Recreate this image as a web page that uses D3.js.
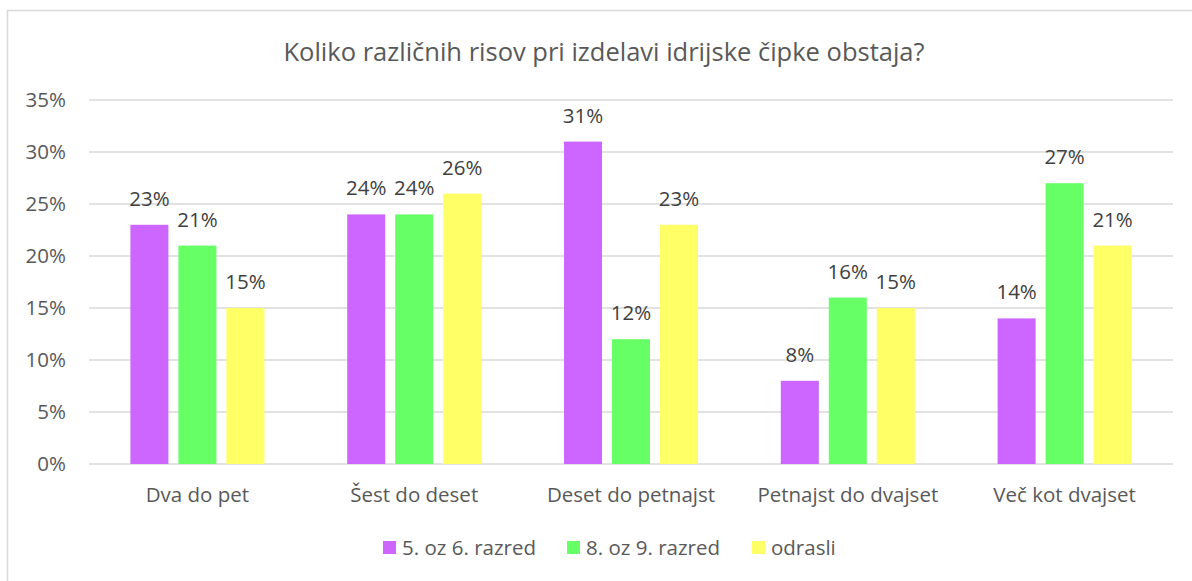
<!DOCTYPE html>
<html>
<head>
<meta charset="utf-8">
<script src="https://cdn.jsdelivr.net/npm/d3@7"></script>
<style>
  body { margin: 0; background: #fff; }
  text { font-family: "Open Sans", sans-serif; }
</style>
</head>
<body>
<div id="chart"></div>
<script>
const CATEGORIES = ["Dva do pet", "Šest do deset", "Deset do petnajst", "Petnajst do dvajset", "Več kot dvajset"];
const SERIES = ["5. oz 6. razred", "8. oz 9. razred", "odrasli"];
const GRADE_56 = [23, 24, 31, 8, 14];
const GRADE_89 = [21, 24, 12, 16, 27];
const ADULTS = [15, 26, 23, 15, 21];
const Y_TICKS = [0, 5, 10, 15, 20, 25, 30, 35];

const COLORS = ["#cc66ff", "#66ff66", "#ffff66"];
const VALUES = [GRADE_56, GRADE_89, ADULTS];

const W = 1192, H = 581;
const FS = 20.5;
const SVG = d3.select("#chart").append("svg")
    .attr("width", W)
    .attr("height", H);

// chart frame (only top and left edges are inside the window)
SVG.append("rect")
    .attr("x", 7.5).attr("y", 10.5)
    .attr("width", 1200).attr("height", 600)
    .attr("fill", "none")
    .attr("stroke", "#d9d9d9")
    .attr("stroke-width", 1.5);

SVG.append("text")
    .attr("x", 604).attr("y", 61)
    .attr("text-anchor", "middle")
    .attr("font-size", 25.5)
    .attr("fill", "#595959")
    .text("Koliko različnih risov pri izdelavi idrijske čipke obstaja?");

const x0 = d3.scaleBand().domain(CATEGORIES).range([89, 1173]);
const x1 = d3.scaleBand().domain(SERIES).range([0, 134]).paddingInner(0.208);
const y = d3.scaleLinear().domain([0, 35]).range([464, 100]);

// gridlines
SVG.append("g").selectAll("line")
    .data(Y_TICKS)
    .enter()
    .append("line")
        .attr("x1", 89).attr("x2", 1173)
        .attr("y1", d => y(d)).attr("y2", d => y(d))
        .attr("stroke", "#d9d9d9")
        .attr("stroke-width", 1.5);

// y tick labels
SVG.append("g").selectAll("text")
    .data(Y_TICKS)
    .enter()
    .append("text")
        .attr("x", 66)
        .attr("y", d => y(d) + 7)
        .attr("text-anchor", "end")
        .attr("font-size", FS)
        .attr("fill", "#595959")
        .text(d => d + "%");

// bars
SERIES.forEach((s, i) => {
    let g = SVG.append("g");
    let offset = d => x0(d) + (x0.bandwidth() - 134) / 2 + x1(s);

    g.selectAll("rect")
        .data(CATEGORIES)
        .enter()
        .append("rect")
            .attr("x", d => offset(d))
            .attr("y", (d, k) => y(VALUES[i][k]))
            .attr("width", x1.bandwidth())
            .attr("height", (d, k) => y(0) - y(VALUES[i][k]))
            .attr("fill", COLORS[i]);

    g.selectAll("text")
        .data(CATEGORIES)
        .enter()
        .append("text")
            .attr("x", d => offset(d) + x1.bandwidth() / 2)
            .attr("y", (d, k) => y(VALUES[i][k]) - 19)
            .attr("text-anchor", "middle")
            .attr("font-size", FS)
            .attr("fill", "#404040")
            .text((d, k) => VALUES[i][k] + "%");
});

// category labels
SVG.append("g").selectAll("text")
    .data(CATEGORIES)
    .enter()
    .append("text")
        .attr("x", d => x0(d) + x0.bandwidth() / 2)
        .attr("y", 502)
        .attr("text-anchor", "middle")
        .attr("font-size", FS)
        .attr("fill", "#595959")
        .text(d => d);

// legend
const LEGEND_X = [383, 567, 752];
let legend = SVG.append("g").selectAll("g")
    .data(SERIES)
    .enter()
    .append("g")
        .attr("transform", (d, i) => "translate(" + LEGEND_X[i] + ",541)");

legend.append("rect")
    .attr("width", 13).attr("height", 13)
    .attr("fill", (d, i) => COLORS[i]);

legend.append("text")
    .attr("x", 19).attr("y", 14)
    .attr("font-size", FS)
    .attr("fill", "#595959")
    .text(d => d);
</script>
</body>
</html>
